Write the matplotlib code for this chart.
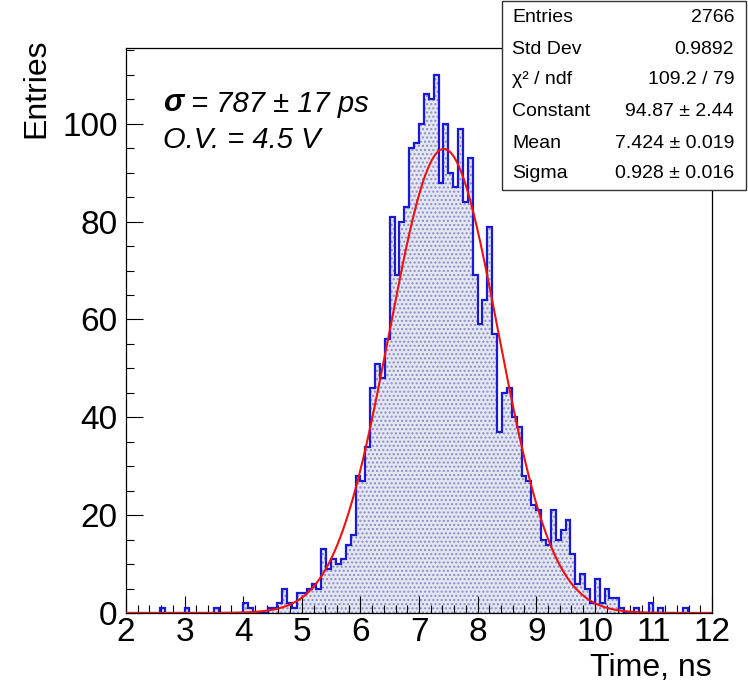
import matplotlib
matplotlib.use("Agg")
import matplotlib.pyplot as plt
import numpy as np
from matplotlib.patches import Rectangle
from matplotlib.ticker import MultipleLocator

plt.rcParams["font.family"] = ["Liberation Sans", "DejaVu Sans"]
plt.rcParams["hatch.linewidth"] = 1.0

# 120 bins of 1/12 ns between 2 and 12 ns (one row per ns)
X_MIN, X_MAX, N_BINS = 2.0, 12.0, 120
COUNTS = [
    0, 0, 0, 0, 0, 0, 0, 1, 0, 0, 0, 0,
    1, 0, 0, 0, 0, 0, 1, 0, 0, 0, 0, 0,
    2, 1, 0, 0, 0, 1, 1, 2, 5, 2, 1, 4,
    4, 5, 6, 5, 13, 9, 11, 10, 11, 14, 16, 28,
    27, 34, 46, 51, 48, 56, 81, 69, 80, 83, 95, 96,
    100, 106, 105, 110, 88, 100, 90, 87, 99, 84, 93, 69,
    59, 64, 79, 57, 37, 45, 46, 40, 38, 28, 27, 22,
    21, 15, 14, 21, 15, 17, 19, 12, 6, 8, 5, 2,
    7, 2, 5, 3, 3, 1, 0, 0, 1, 0, 0, 2,
    0, 1, 0, 0, 0, 0, 1, 0, 0, 0, 0, 0,
]

# gaussian fit result
FIT_CONST, FIT_MEAN, FIT_SIGMA = 94.87, 7.424, 0.928

STATS_LABELS = ["Entries", "Std Dev", "χ² / ndf", "Constant", "Mean", "Sigma"]
STATS_VALUES = ["2766", "0.9892", "109.2 / 79", "94.87 ± 2.44", "7.424 ± 0.019", "0.928 ± 0.016"]

W, H = 748, 686


def fx(px):
    return px / W


def fy(py):
    return 1 - py / H


fig = plt.figure(figsize=(W / 100, H / 100), dpi=100)
ax = fig.add_axes([fx(126), fy(613), fx(712) - fx(126), fy(48) - fy(613)])

edges = np.linspace(X_MIN, X_MAX, N_BINS + 1)
counts = np.array(COUNTS, dtype=float)

# dotted fill + blue outline, ROOT style
ax.stairs(counts, edges, fill=True, facecolor="#e4e6f2", edgecolor="#8a8ec4",
          hatch="....", linewidth=0, zorder=1)
ax.stairs(counts, edges, color="#1a1ad6", linewidth=1.6, baseline=0, zorder=2)

xf = np.linspace(X_MIN, X_MAX, 800)
yf = FIT_CONST * np.exp(-0.5 * ((xf - FIT_MEAN) / FIT_SIGMA) ** 2)
ax.plot(xf, yf, color="#ee1111", linewidth=1.5, zorder=3)

ax.set_xlim(X_MIN, X_MAX)
ax.set_ylim(0, 1.05 * counts.max())

ax.xaxis.set_major_locator(MultipleLocator(1))
ax.xaxis.set_minor_locator(MultipleLocator(0.2))
ax.yaxis.set_major_locator(MultipleLocator(20))
ax.yaxis.set_minor_locator(MultipleLocator(5))
ax.tick_params(which="both", direction="in", top=False, right=False, width=0.8)
ax.tick_params(which="major", length=12)
ax.tick_params(which="minor", length=6)
ax.tick_params(axis="x", which="major", labelsize=24, pad=3)
ax.tick_params(axis="y", which="major", labelsize=24, pad=6)
for sp in ax.spines.values():
    sp.set_linewidth(0.9)

fig.text(fx(36), fy(38), "Entries", rotation=90, ha="center", va="top", fontsize=23)
fig.text(fx(712), fy(668), "Time, ns", ha="right", va="center", fontsize=23)

t1 = fig.text(fx(163), fy(103), "σ", fontsize=22, fontstyle="italic", fontweight="bold",
              va="center", ha="left")
ax.annotate(" = 787 ± 17 ps", xy=(1, 0), xycoords=t1, va="bottom", ha="left",
            fontsize=21, fontstyle="italic")
fig.text(fx(163), fy(140), "O.V. = 4.5 V", fontsize=21, fontstyle="italic",
         va="center", ha="left")

# stats box
fig.add_artist(Rectangle((fx(502), fy(190)), fx(746) - fx(502), fy(1) - fy(190),
                         transform=fig.transFigure, facecolor="white",
                         edgecolor="#333333", linewidth=1.0, zorder=5))
row_y = [18, 49, 80, 112, 143, 174]
for lab, val, y in zip(STATS_LABELS, STATS_VALUES, row_y):
    fig.text(fx(512), fy(y), lab, fontsize=14, ha="left", va="center", zorder=6)
    fig.text(fx(734), fy(y), val, fontsize=14, ha="right", va="center", zorder=6)

fig.savefig("out.png", dpi=100)
